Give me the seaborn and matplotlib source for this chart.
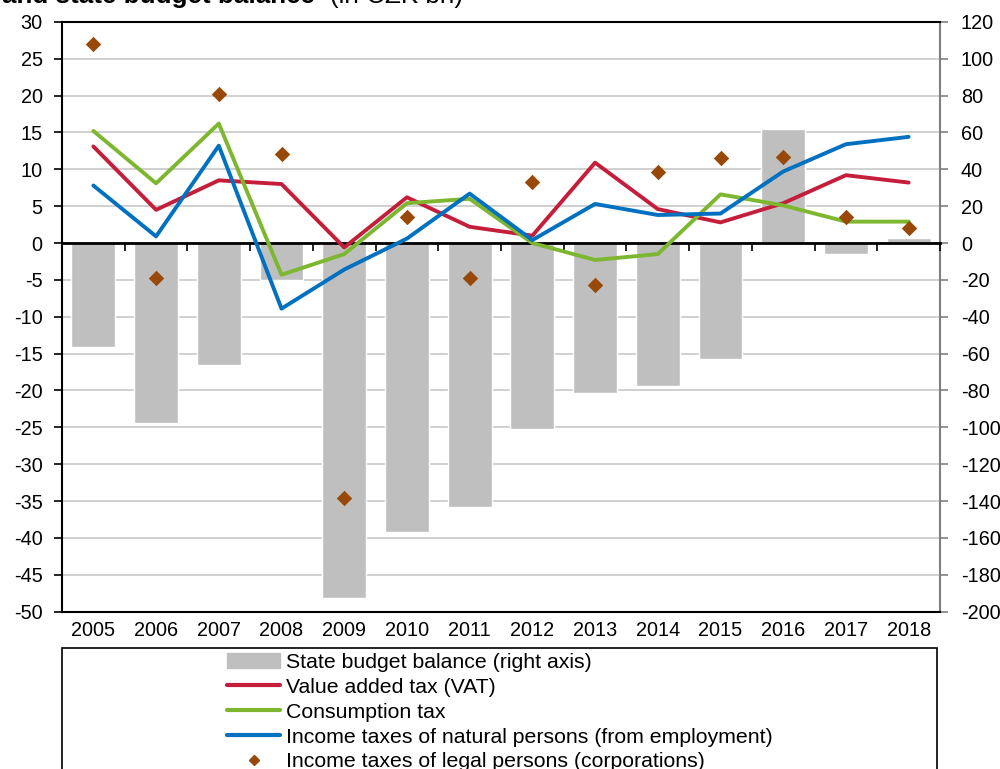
import matplotlib.pyplot as plt
import matplotlib.patches as mpatches
from matplotlib.lines import Line2D
import numpy as np
import pandas as pd
import seaborn as sns

years = ['2005', '2006', '2007', '2008', '2009', '2010', '2011',
         '2012', '2013', '2014', '2015', '2016', '2017', '2018']
budget_balance = [-56.5, -97.6, -66.4, -20.0, -192.8, -156.7, -143.0,
                  -101.0, -81.5, -77.8, -62.8, 61.7, -6.1, 2.7]
vat = [13.1, 4.5, 8.5, 8.0, -0.6, 6.2, 2.2, 1.0, 10.9, 4.6, 2.8, 5.4, 9.2, 8.2]
consumption = [15.2, 8.1, 16.2, -4.3, -1.5, 5.4, 6.0, 0.0, -2.3, -1.5, 6.6, 5.1, 2.9, 2.9]
income_natural = [7.8, 0.9, 13.2, -8.9, -3.6, 0.6, 6.7, 0.4, 5.3, 3.8, 4.0, 9.7, 13.4, 14.4]
income_legal = [27.0, -4.8, 20.2, 12.1, -34.6, 3.5, -4.7, 8.3, -5.7, 9.6, 11.5, 11.7, 3.5, 2.0]

labels = ['State budget balance (right axis)', 'Value added tax (VAT)',
          'Consumption tax', 'Income taxes of natural persons (from employment)',
          'Income taxes of legal persons (corporations)']

GREY = '#BFBFBF'
RED = '#C41E3A'
GREEN = '#7DB72F'
BLUE = '#0070C0'
BROWN = '#984807'

sns.set_style('white')
plt.rcParams['font.family'] = ['Liberation Sans', 'DejaVu Sans']
plt.rcParams['axes.unicode_minus'] = False
plt.rcParams['text.color'] = 'black'
plt.rcParams['xtick.color'] = 'black'
plt.rcParams['ytick.color'] = 'black'

df = pd.DataFrame({
    'pos': np.arange(len(years)),
    'year': years,
    'balance': budget_balance,
    'vat': vat,
    'consumption': consumption,
    'natural': income_natural,
    'legal': income_legal,
})

fig = plt.figure(figsize=(10, 7.69), dpi=100)
ax = fig.add_axes([0.062, 0.2046, 0.878, 0.767])
ax2 = ax.twinx()

# bars on the right axis, drawn behind the lines
sns.barplot(data=df, x='pos', y='balance', ax=ax2, color=GREY, saturation=1,
            width=0.7, native_scale=True)
ax2.set_ylim(-200, 120)
ax2.set_yticks(range(-200, 121, 20))
ax2.grid(axis='y', color='#C8C8C8', lw=1.2)
ax2.set_axisbelow(True)
ax2.set_ylabel('')
ax2.tick_params(axis='y', direction='out', length=6, width=1.2, color='#808080', pad=9,
                labelsize=14.3, labelcolor='black', right=True, left=False)
for s in ['left', 'top', 'bottom']:
    ax2.spines[s].set_visible(False)
ax2.spines['right'].set_color('#808080')
ax2.spines['right'].set_linewidth(1.5)

ax.set_zorder(ax2.get_zorder() + 1)
ax.patch.set_visible(False)
sns.lineplot(data=df, x='pos', y='vat', ax=ax, color=RED, lw=2.8)
sns.lineplot(data=df, x='pos', y='consumption', ax=ax, color=GREEN, lw=2.8)
sns.lineplot(data=df, x='pos', y='natural', ax=ax, color=BLUE, lw=2.8)
sns.scatterplot(data=df, x='pos', y='legal', ax=ax, color=BROWN, marker='D', s=62,
                linewidth=0, zorder=5)

ax.set_xlim(-0.5, len(years) - 0.5)
ax2.set_xlim(-0.5, len(years) - 0.5)
ax.set_ylim(-50, 30)
ax.set_yticks(range(-50, 31, 5))
ax.set_xticks(df['pos'], years)
ax.set_xlabel('')
ax.set_ylabel('')
ax.tick_params(axis='x', length=0, pad=7, labelsize=14.3)
ax.tick_params(axis='y', direction='out', length=6, width=1.2, color='black', pad=8,
               labelsize=14.3, left=True)
for s in ['left', 'top', 'bottom']:
    ax.spines[s].set_color('black')
    ax.spines[s].set_linewidth(1.5)
ax.spines['right'].set_visible(False)

# category axis crossing at zero, with tick marks between the years
zero_frac = (0 - ax.get_ylim()[0]) / (ax.get_ylim()[1] - ax.get_ylim()[0])
sec = ax.secondary_xaxis(zero_frac)
sec.set_xticks(np.arange(-0.5, len(years), 1))
sec.set_xticklabels([])
sec.xaxis.set_ticks_position('bottom')
sec.tick_params(axis='x', direction='out', length=6, width=1.2, color='black')
for s in sec.spines.values():
    s.set_color('black')
    s.set_linewidth(2)

# title (cut off at the top, as in the source)
fig.text(0.002, 1 - 3.5 / 769, 'and state budget balance', fontsize=18.7, fontweight='bold',
         va='baseline', ha='left')
fig.text(0.330, 1 - 3.5 / 769, '(in CZK bn)', fontsize=18.7, va='baseline', ha='left')

# legend box
fig.patches.append(mpatches.Rectangle((0.062, -0.05), 0.875, 1 - 648 / 769 + 0.05,
                                      transform=fig.transFigure, fill=False,
                                      edgecolor='black', lw=1.2))
handles = [
    mpatches.Patch(color=GREY),
    Line2D([], [], color=RED, lw=3),
    Line2D([], [], color=GREEN, lw=3),
    Line2D([], [], color=BLUE, lw=3),
    Line2D([], [], color=BROWN, marker='D', ls='none', markersize=5.5),
]
fig.legend(handles, labels, loc='upper left', bbox_to_anchor=(0.227, 1 - 653 / 769),
           frameon=False, fontsize=15.3, handlelength=2.5, handletextpad=0.28,
           labelspacing=0.275, borderpad=0, borderaxespad=0)

fig.savefig('out.png', dpi=100)
